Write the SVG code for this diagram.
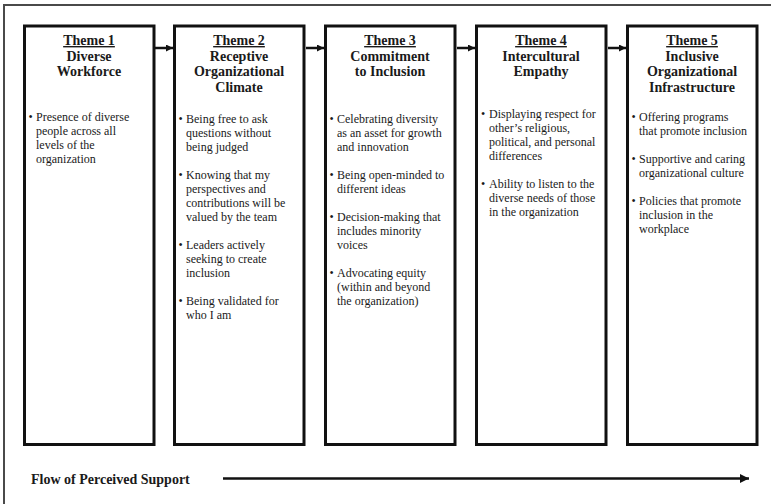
<svg xmlns="http://www.w3.org/2000/svg" width="771" height="504" viewBox="0 0 771 504">
<defs>
<style>
.frame{fill:none;stroke:#4a4a4a;stroke-width:2}
.box{fill:#fff;stroke:#111;stroke-width:3}
.h{font-family:"Liberation Serif","Times New Roman",serif;font-weight:bold;font-size:14px;fill:#1a1a1a;text-anchor:middle}
.u{text-decoration:underline}
.b{font-family:"Liberation Serif","Times New Roman",serif;font-size:12px;fill:#1a1a1a}
.flow{font-family:"Liberation Serif","Times New Roman",serif;font-weight:bold;font-size:14px;fill:#1a1a1a}
.conn{stroke:#111;stroke-width:2.5;fill:none}
</style>
<marker id="ah" markerUnits="userSpaceOnUse" markerWidth="8" markerHeight="8" refX="7" refY="3.5" orient="auto">
<path d="M0,0 L7,3.5 L0,7 Z" fill="#111"/>
</marker>
<marker id="ahb" markerUnits="userSpaceOnUse" markerWidth="10" markerHeight="10" refX="9" refY="4.5" orient="auto">
<path d="M0,0 L9,4.5 L0,9 Z" fill="#111"/>
</marker>
</defs>
<rect width="771" height="504" fill="#fff"/>
<rect class="frame" x="4" y="5" width="800" height="560"/>

<g id="theme1">
<rect class="box" x="24.5" y="26" width="129.5" height="418.5"/>
<text class="h u" x="89" y="45">Theme 1</text>
<text class="h" x="89" y="60.5">Diverse</text>
<text class="h" x="89" y="76">Workforce</text>
<text class="b" x="28.5" y="121">•</text>
<text class="b" x="36" y="121">Presence of diverse</text>
<text class="b" x="36" y="135">people across all</text>
<text class="b" x="36" y="149">levels of the</text>
<text class="b" x="36" y="163">organization</text>
</g>

<g id="theme2">
<rect class="box" x="174.5" y="26" width="129.5" height="418.5"/>
<text class="h u" x="239" y="45">Theme 2</text>
<text class="h" x="239" y="60.5">Receptive</text>
<text class="h" x="239" y="76">Organizational</text>
<text class="h" x="239" y="91.5">Climate</text>
<text class="b" x="178.5" y="123">•</text>
<text class="b" x="186" y="123">Being free to ask</text>
<text class="b" x="186" y="137">questions without</text>
<text class="b" x="186" y="151">being judged</text>
<text class="b" x="178.5" y="179">•</text>
<text class="b" x="186" y="179">Knowing that my</text>
<text class="b" x="186" y="193">perspectives and</text>
<text class="b" x="186" y="207">contributions will be</text>
<text class="b" x="186" y="221">valued by the team</text>
<text class="b" x="178.5" y="249">•</text>
<text class="b" x="186" y="249">Leaders actively</text>
<text class="b" x="186" y="263">seeking to create</text>
<text class="b" x="186" y="277">inclusion</text>
<text class="b" x="178.5" y="305">•</text>
<text class="b" x="186" y="305">Being validated for</text>
<text class="b" x="186" y="319">who I am</text>
</g>

<g id="theme3">
<rect class="box" x="325.5" y="26" width="129.5" height="418.5"/>
<text class="h u" x="390" y="45">Theme 3</text>
<text class="h" x="390" y="60.5">Commitment</text>
<text class="h" x="390" y="76">to Inclusion</text>
<text class="b" x="329.5" y="123">•</text>
<text class="b" x="337" y="123">Celebrating diversity</text>
<text class="b" x="337" y="137">as an asset for growth</text>
<text class="b" x="337" y="151">and innovation</text>
<text class="b" x="329.5" y="179">•</text>
<text class="b" x="337" y="179">Being open-minded to</text>
<text class="b" x="337" y="193">different ideas</text>
<text class="b" x="329.5" y="221">•</text>
<text class="b" x="337" y="221">Decision-making that</text>
<text class="b" x="337" y="235">includes minority</text>
<text class="b" x="337" y="249">voices</text>
<text class="b" x="329.5" y="277">•</text>
<text class="b" x="337" y="277">Advocating equity</text>
<text class="b" x="337" y="291">(within and beyond</text>
<text class="b" x="337" y="305">the organization)</text>
</g>

<g id="theme4">
<rect class="box" x="476.5" y="26" width="129.5" height="418.5"/>
<text class="h u" x="541" y="45">Theme 4</text>
<text class="h" x="541" y="60.5">Intercultural</text>
<text class="h" x="541" y="76">Empathy</text>
<text class="b" x="481" y="118">•</text>
<text class="b" x="489" y="118">Displaying respect for</text>
<text class="b" x="489" y="132">other’s religious,</text>
<text class="b" x="489" y="146">political, and personal</text>
<text class="b" x="489" y="160">differences</text>
<text class="b" x="481" y="188">•</text>
<text class="b" x="489" y="188">Ability to listen to the</text>
<text class="b" x="489" y="202">diverse needs of those</text>
<text class="b" x="489" y="216">in the organization</text>
</g>

<g id="theme5">
<rect class="box" x="627.5" y="26" width="129.5" height="418.5"/>
<text class="h u" x="692" y="45">Theme 5</text>
<text class="h" x="692" y="60.5">Inclusive</text>
<text class="h" x="692" y="76">Organizational</text>
<text class="h" x="692" y="91.5">Infrastructure</text>
<text class="b" x="631.5" y="121">•</text>
<text class="b" x="639" y="121">Offering programs</text>
<text class="b" x="639" y="135">that promote inclusion</text>
<text class="b" x="631.5" y="163">•</text>
<text class="b" x="639" y="163">Supportive and caring</text>
<text class="b" x="639" y="177">organizational culture</text>
<text class="b" x="631.5" y="205">•</text>
<text class="b" x="639" y="205">Policies that promote</text>
<text class="b" x="639" y="219">inclusion in the</text>
<text class="b" x="639" y="233">workplace</text>
</g>

<g id="connectors">
<line class="conn" x1="155" y1="48" x2="173" y2="48" marker-end="url(#ah)"/>
<line class="conn" x1="306" y1="48" x2="324" y2="48" marker-end="url(#ah)"/>
<line class="conn" x1="457" y1="48" x2="475" y2="48" marker-end="url(#ah)"/>
<line class="conn" x1="608" y1="48" x2="626" y2="48" marker-end="url(#ah)"/>
<line class="conn" x1="223" y1="478.5" x2="749" y2="478.5" marker-end="url(#ahb)"/>
</g>

<g id="flow-label">
<text class="flow" x="31" y="484">Flow of Perceived Support</text>
</g>
</svg>
